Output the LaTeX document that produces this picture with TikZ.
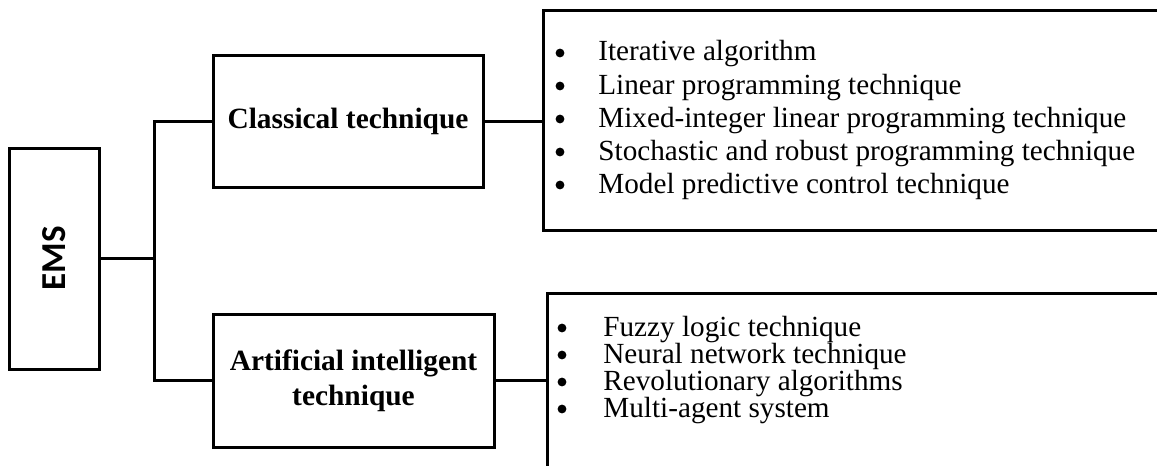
\documentclass[tikz,border=0pt]{standalone}
\usepackage{fontspec}
\setmainfont{Liberation Serif}
\newfontfamily\emsfont{Carlito}
\tikzset{
  box/.style={draw, line width=1.5pt, inner sep=0pt, align=center,
    font=\fontsize{14.7}{17.5}\selectfont\bfseries},
  listbox/.style={draw, line width=1.5pt, inner sep=0pt},
  item/.style={anchor=base west, inner sep=0pt, font=\fontsize{14.6}{17.5}\selectfont},
  dot/.style={circle, fill, inner sep=0pt, minimum size=4.4pt},
  wire/.style={line width=1.5pt},
}
\begin{document}
\begin{tikzpicture}[x=0.5pt,y=-0.5pt]
    \useasboundingbox (0,0) rectangle (1157,466);
    % root and the two families
    \node[box, minimum width=45pt, minimum height=110.5pt] (ems) at (54,258.5)
        {\rotatebox{90}{\emsfont\bfseries\fontsize{17.5}{20}\selectfont EMS}};
    \node[box, minimum width=135pt, minimum height=66pt] (classical) at (348,121) {Classical technique};
    \node[box, minimum width=140.5pt, minimum height=66.5pt] (ai) at (353.5,380.5) {Artificial intelligent\\technique};
    % list boxes (they run off the right edge)
    \node[listbox, minimum width=316pt, minimum height=110pt] (toplist) at (859,120) {};
    \node[listbox, minimum width=314pt, minimum height=93.5pt] (botlist) at (861,386.5) {};
    % tree lines
    \coordinate (jt) at (154,121);
    \draw[wire] (ems.east) -- (ems.east -| jt);
    \draw[wire] (classical.west) -- (jt) |- (ai.west);
    \draw[wire] (classical.east) -- (classical.east -| toplist.west);
    \draw[wire] (ai.east) -- (ai.east -| botlist.west);
    % items
    \foreach \txt [count=\i] in {Iterative algorithm, Linear programming technique,
        Mixed-integer linear programming technique, Stochastic and robust programming technique,
        Model predictive control technique}{
        \node[dot] (cb\i) at (560,{20+33*\i}) {};
        \node[item] (ct\i) at (598,{28+33*\i}) {\txt};
    }
    \foreach \txt [count=\i] in {Fuzzy logic technique, Neural network technique,
        Revolutionary algorithms, Multi-agent system}{
        \node[dot] (ab\i) at (562,{301+27*\i}) {};
        \node[item] (at\i) at (603,{309+27*\i}) {\txt};
    }
\end{tikzpicture}
\end{document}
